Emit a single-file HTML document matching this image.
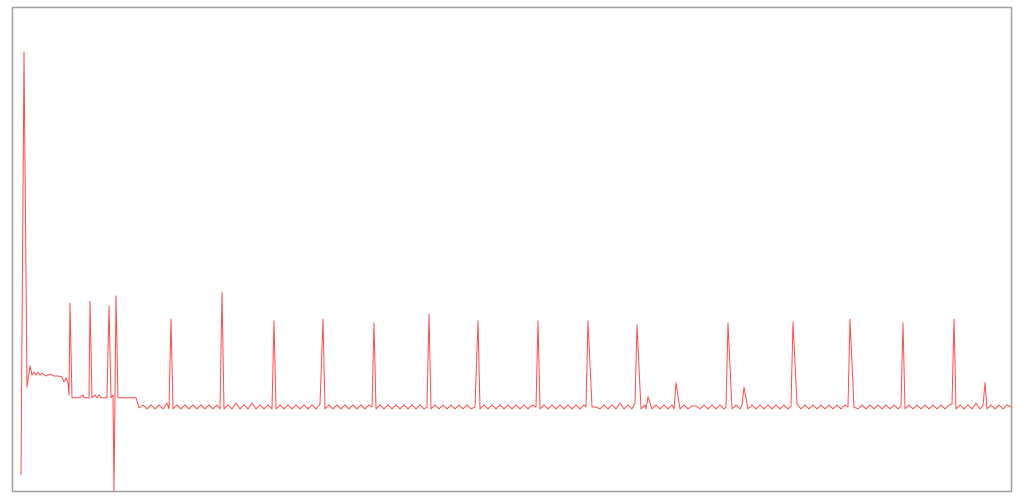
<!DOCTYPE html>
<html><head><meta charset="utf-8"><style>
html,body{margin:0;padding:0;background:#fff;width:1024px;height:500px;overflow:hidden}
</style></head><body>
<svg id="chart" width="1024" height="500" xmlns="http://www.w3.org/2000/svg">
<rect x="12.5" y="7.5" width="999" height="484" fill="#fff" stroke="#a0a0a0" stroke-width="1.5"/>
</svg>
<script>
const xs=[9,12,15,18,20,22,24,26,28,30,34,38,42,46,50,52,54,56,57,58,60,64,68,71,72,74,77,78,80,83,85,87,89,95,97,99,101,102,104,106,110,124,127,
131,135,139,143,147,151,155,157,159,161,165,169,173,177,181,185,189,193,197,201,205,208,210,212,216,220,224,228,232,236,240,244,248,252,256,260,262,264,
268,272,276,280,284,288,292,296,300,304,308,311,313,317,321,325,329,333,337,341,345,349,353,357,360,362,364,368,372,376,380,384,388,392,396,400,404,408,412,415,417,419,
423,427,431,435,439,443,447,451,455,459,463,466,468,472,476,480,484,488,492,496,500,504,508,512,516,520,524,526,528,532,536,540,544,548,552,556,560,564,568,572,574,576,
580,584,588,592,596,600,604,608,612,616,620,623,625,629,633,634,636,640,644,648,652,656,660,662,664,668,672,676,680,684,688,692,696,700,704,708,712,714,716,720,724,728,730,732,736,740,744,
748,752,756,760,764,768,772,776,779,781,785,789,793,797,801,805,809,813,817,821,825,829,833,836,838,842,846,850,854,858,862,866,870,874,878,882,886,889,891,893,897,901,905,909,913,917,921,925,929,933,937,940,942,944,
948,952,956,960,964,968,971,973,975,979,983,987,991,995,1000];
const ys=[3.3,90.9,21.5,25.9,24.0,24.6,24.0,24.6,24.0,24.4,23.8,24.2,23.8,23.8,23.6,22.6,23.4,22.4,19.9,38.9,19.3,19.3,19.3,19.9,19.3,19.3,19.3,39.3,19.3,19.9,19.3,19.9,19.3,19.3,38.3,19.3,19.9,0,40.4,19.3,19.3,19.3,17.2,
17.8,17.0,17.8,17.0,17.8,17.0,18.2,17.0,35.6,17.0,17.8,17.0,17.8,17.0,17.8,17.0,17.8,17.0,17.8,17.0,17.8,17.0,41.2,17.0,17.8,17.0,18.2,17.0,17.8,17.0,18.2,17.0,17.8,17.0,17.8,17.0,35.2,17.0,
17.8,17.0,17.8,17.0,17.8,17.0,17.8,17.0,17.8,17.0,18.0,35.6,17.0,17.8,17.0,17.8,17.0,17.8,17.0,17.8,17.0,17.8,17.0,17.8,17.4,34.8,17.0,17.8,17.0,17.8,17.0,17.8,17.0,17.8,17.0,17.8,17.0,17.8,17.0,17.4,36.6,17.0,
17.8,17.0,17.8,17.0,17.8,17.0,17.8,17.0,17.8,17.0,17.4,35.2,17.0,17.8,17.0,17.8,17.0,17.8,17.0,17.8,17.0,17.8,17.0,17.8,17.0,17.8,17.4,35.2,17.0,17.8,17.0,17.8,17.0,17.8,17.0,17.8,17.0,17.8,17.0,17.8,17.4,35.2,17.4,
17.4,17.0,17.8,17.0,17.8,17.0,18.2,17.0,17.8,17.0,18.2,34.4,17.0,17.8,17.0,19.5,17.0,17.8,17.0,17.8,17.0,17.8,17.0,22.4,17.0,17.8,17.0,17.6,17.6,17.0,17.8,17.0,17.8,17.0,17.8,17.0,17.4,34.8,17.0,17.8,17.0,17.8,21.5,17.0,17.8,17.0,17.8,
17.0,17.8,17.0,17.8,17.0,17.8,17.0,17.6,35.0,18.0,17.0,17.8,17.0,17.8,17.0,17.8,17.0,17.8,17.0,17.8,17.0,17.8,17.4,35.6,17.4,17.0,17.8,17.0,17.8,17.0,17.8,17.0,17.8,17.0,17.8,17.0,17.6,34.8,17.0,17.8,17.0,17.8,17.0,17.8,17.0,17.8,17.0,17.8,17.0,17.8,18.0,35.6,17.0,
17.8,17.0,17.8,17.0,18.2,17.0,17.6,22.4,17.0,17.8,17.0,17.8,17.0,17.8,17.4];
const X0=12,X1=1012,Y0=491,Y1=8;
function sx(v){return X0+v/1000*(X1-X0);}
function sy(v){return Y0-v/100*(Y0-Y1);}
const svg=document.getElementById('chart');
const n=Math.min(xs.length,ys.length);
let d='';
for(let i=0;i<n;i++){d+=(i?'L':'M')+sx(xs[i]).toFixed(1)+' '+sy(ys[i]).toFixed(1);}
const p=document.createElementNS('http://www.w3.org/2000/svg','path');
p.setAttribute('d',d);
p.setAttribute('fill','none');
p.setAttribute('stroke','#ff4d4d');
p.setAttribute('stroke-width','1');
p.setAttribute('stroke-linejoin','round');


svg.appendChild(p);
</script>
</body></html>
